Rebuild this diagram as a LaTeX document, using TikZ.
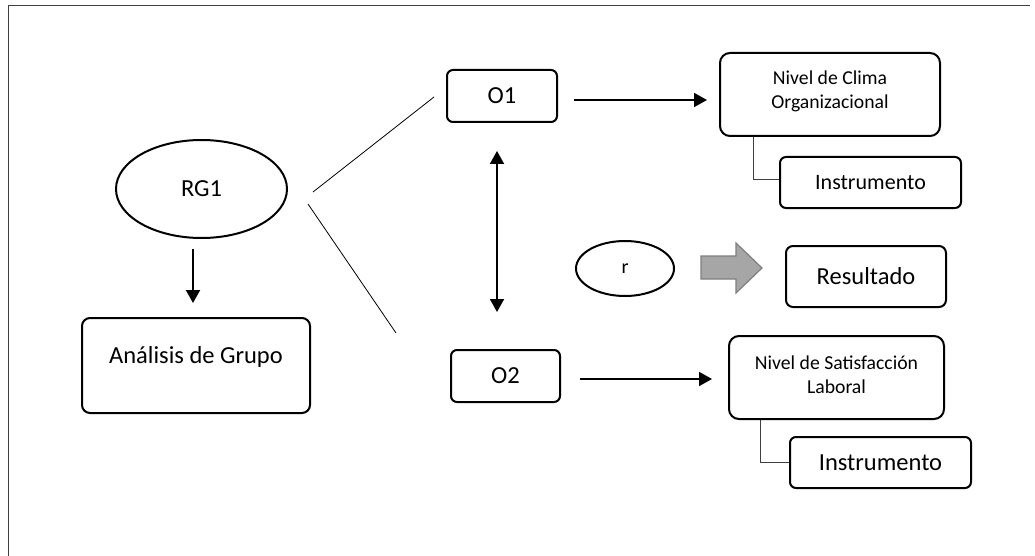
\documentclass[tikz,border=0pt]{standalone}
\usepackage{fontspec}
\setmainfont{Carlito}
\usetikzlibrary{shapes.geometric,arrows.meta}
\definecolor{arrowfill}{HTML}{A6A6A6}
\definecolor{arrowline}{HTML}{7F7F7F}
\definecolor{frameline}{HTML}{404040}
\tikzset{
  box/.style={draw, line width=2pt, rounded corners=8pt, rectangle, inner sep=0pt, align=center},
  oval/.style={draw, line width=2pt, ellipse, inner sep=0pt},
  big/.style={font=\fontsize{24.5}{29}\selectfont},
  mid/.style={font=\fontsize{19.7}{24}\selectfont},
  arr/.style={line width=1.9pt, -{Triangle[length=13pt,width=14pt]}},
  dblarr/.style={line width=1.9pt, {Triangle[length=13pt,width=14pt]}-{Triangle[length=13pt,width=14pt]}},
  thin/.style={line width=0.8pt},
  conn/.style={line width=1pt, draw=frameline},
}
\begin{document}
\begin{tikzpicture}[x=1pt,y=-1pt]
\useasboundingbox (0,0) rectangle (1035,556);
% frame
\draw[line width=1pt, frameline] (8,556) -- (8,6) -- (1030,6);

% nodes
\node[oval, big, minimum width=171, minimum height=98] (rg1) at (201.5,189) {RG1};
\node[box, minimum width=228, minimum height=95] (ana) at (196,365.5) {};
\node[big, inner sep=0pt] (anatext) at (196,357) {Análisis de Grupo};

\node[box, big, minimum width=110, minimum height=52, rounded corners=6pt] (o1) at (502,96) {O1};
\node[box, big, minimum width=109, minimum height=52, rounded corners=6pt] (o2) at (505.5,376) {O2};

\node[box, minimum width=220, minimum height=83, rounded corners=10pt] (clima) at (830,94.5) {};
\node[mid, align=center, inner sep=0pt] (climatext) at (830,91) {Nivel de Clima\\Organizacional};
\node[box, font=\fontsize{22}{26}\selectfont, minimum width=181, minimum height=51, rounded corners=6pt] (inst1) at (870.5,182.5) {Instrumento};

\node[oval, font=\fontsize{20}{24}\selectfont, minimum width=98, minimum height=55] (r) at (625,268.5) {r};
\node[box, big, minimum width=160, minimum height=61, rounded corners=7pt] (res) at (866,276.5) {Resultado};

\node[box, minimum width=215, minimum height=83, rounded corners=10pt] (sat) at (836.5,377.5) {};
\node[mid, align=center, inner sep=0pt] (sattext) at (836.5,375) {Nivel de Satisfacción\\Laboral};
\node[box, big, minimum width=181, minimum height=51, rounded corners=6pt] (inst2) at (880.5,462.5) {Instrumento};

% block arrow
\draw[line width=1.2pt, draw=arrowline, fill=arrowfill]
  (701,256) -- (736,256) -- (736,243) -- (762,268) -- (736,293) -- (736,279) -- (701,279) -- cycle;

% connectors
\draw[arr] ([xshift=-8.5,yshift=-10]rg1.south) -- ([xshift=-3,yshift=14]ana.north);
\draw[thin] ([xshift=25,yshift=-3]rg1.east) -- ([xshift=-12,yshift=-1]o1.west);
\draw[thin] ([xshift=20,yshift=-15]rg1.east) -- ([xshift=-54,yshift=43]o2.west);
\draw[dblarr] ([xshift=-5,yshift=-28]o1.south) -- ([xshift=-8.5,yshift=37]o2.north);
\draw[arr] ([xshift=16,yshift=-4]o1.east) -- ([xshift=-12,yshift=-5.5]clima.west);
\draw[arr] ([xshift=19,yshift=-3]o2.east) -- ([xshift=-16,yshift=-1.5]sat.west);
\draw[conn] ([xshift=34]clima.south west) |- ([yshift=2.5]inst1.west);
\draw[conn] ([xshift=32]sat.south west) |- (inst2.west);
\end{tikzpicture}
\end{document}
